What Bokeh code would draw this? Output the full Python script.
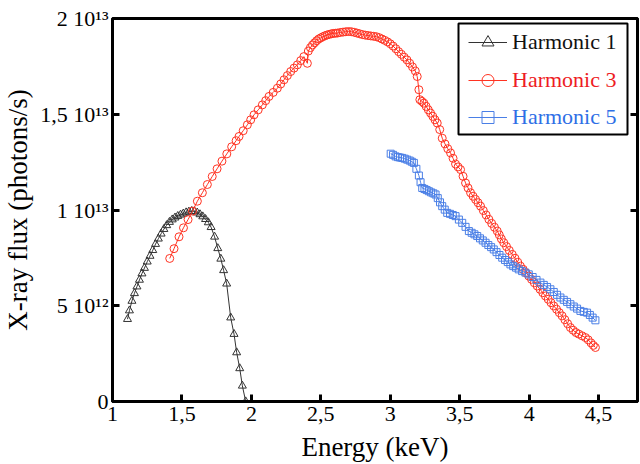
from bokeh.plotting import figure
from bokeh.models import (Range1d, LinearAxis, FixedTicker, CustomJSTickFormatter,
                          Legend, LegendItem, BoxAnnotation)
from bokeh.embed import file_html
from bokeh.resources import INLINE

# ---------------- data (flux in units of 1e13 photons/s) ----------------
energy_h1 = [1.108, 1.122, 1.140, 1.158, 1.176, 1.194, 1.212, 1.230, 1.250, 1.270,
             1.290, 1.310, 1.330, 1.350, 1.370, 1.390, 1.410, 1.430, 1.450, 1.470,
             1.490, 1.510, 1.530, 1.550, 1.570, 1.590, 1.610, 1.630, 1.650, 1.670,
             1.690, 1.710, 1.735, 1.758, 1.780, 1.800, 1.822, 1.851, 1.875, 1.894,
             1.916, 1.935, 1.959]
flux_h1 = [0.430, 0.475, 0.525, 0.565, 0.600, 0.635, 0.668, 0.697, 0.730, 0.760,
           0.790, 0.822, 0.850, 0.876, 0.900, 0.920, 0.937, 0.950, 0.960, 0.968,
           0.975, 0.981, 0.987, 0.991, 0.994, 0.993, 0.986, 0.977, 0.966, 0.952,
           0.935, 0.910, 0.860, 0.800, 0.745, 0.685, 0.615, 0.438, 0.352, 0.256,
           0.173, 0.082, 0.000]

energy_h3 = [1.412, 1.443, 1.479, 1.511, 1.544, 1.576, 1.611, 1.647, 1.683, 1.718,
             1.753, 1.788, 1.823, 1.858, 1.890, 1.911, 1.941, 1.971, 1.995, 2.019,
             2.049, 2.079, 2.103, 2.127, 2.157, 2.187, 2.211, 2.235, 2.259, 2.283,
             2.307, 2.331, 2.355, 2.378, 2.403, 2.410, 2.425, 2.440, 2.455, 2.470,
             2.485, 2.500, 2.515, 2.530, 2.545, 2.560, 2.575, 2.590, 2.605, 2.620,
             2.640, 2.660, 2.680, 2.700, 2.720, 2.740, 2.760, 2.780, 2.800, 2.820,
             2.840, 2.860, 2.880, 2.900, 2.920, 2.940, 2.960, 2.980, 3.000, 3.020,
             3.040, 3.060, 3.080, 3.100, 3.120, 3.140, 3.160, 3.180, 3.194, 3.206,
             3.213, 3.228, 3.242, 3.258, 3.274, 3.290, 3.306, 3.322, 3.338, 3.356,
             3.374, 3.394, 3.414, 3.434, 3.452, 3.470, 3.488, 3.506, 3.524, 3.542,
             3.560, 3.578, 3.596, 3.614, 3.632, 3.650, 3.670, 3.690, 3.710, 3.730,
             3.750, 3.770, 3.785, 3.800, 3.817, 3.837, 3.857, 3.878, 3.898, 3.918,
             3.937, 3.957, 3.977, 3.997, 4.017, 4.037, 4.058, 4.078, 4.098, 4.117,
             4.137, 4.157, 4.177, 4.197, 4.217, 4.237, 4.257, 4.277, 4.297, 4.317,
             4.337, 4.357, 4.381, 4.405, 4.425, 4.445, 4.462, 4.477]
flux_h3 = [0.747, 0.798, 0.860, 0.907, 0.950, 0.994, 1.046, 1.090, 1.133, 1.175,
           1.215, 1.255, 1.293, 1.330, 1.362, 1.384, 1.414, 1.445, 1.471, 1.497,
           1.523, 1.549, 1.571, 1.593, 1.614, 1.636, 1.658, 1.680, 1.702, 1.723,
           1.741, 1.758, 1.780, 1.801, 1.766, 1.830, 1.848, 1.862, 1.873, 1.884,
           1.893, 1.899, 1.905, 1.910, 1.914, 1.917, 1.920, 1.922, 1.923, 1.924,
           1.927, 1.929, 1.931, 1.932, 1.931, 1.928, 1.924, 1.920, 1.916, 1.913,
           1.911, 1.909, 1.907, 1.905, 1.900, 1.893, 1.886, 1.878, 1.868, 1.856,
           1.842, 1.827, 1.813, 1.798, 1.784, 1.766, 1.747, 1.726, 1.697, 1.628,
           1.576, 1.567, 1.558, 1.541, 1.523, 1.506, 1.489, 1.471, 1.454, 1.420,
           1.375, 1.345, 1.320, 1.298, 1.270, 1.240, 1.225, 1.211, 1.176, 1.141,
           1.115, 1.090, 1.072, 1.055, 1.038, 1.020, 0.997, 0.974, 0.951, 0.930,
           0.910, 0.890, 0.870, 0.849, 0.829, 0.809, 0.789, 0.768, 0.748, 0.727,
           0.707, 0.690, 0.672, 0.655, 0.638, 0.620, 0.603, 0.586, 0.568, 0.551,
           0.534, 0.516, 0.499, 0.482, 0.464, 0.447, 0.427, 0.406, 0.386, 0.372,
           0.360, 0.352, 0.343, 0.334, 0.322, 0.306, 0.293, 0.282]

energy_h5 = [3.003, 3.020, 3.038, 3.055, 3.070, 3.086, 3.104, 3.122, 3.140, 3.155,
             3.170, 3.188, 3.206, 3.218, 3.230, 3.246, 3.262, 3.278, 3.294, 3.310,
             3.326, 3.342, 3.358, 3.374, 3.392, 3.410, 3.430, 3.450, 3.470, 3.494,
             3.518, 3.542, 3.566, 3.586, 3.606, 3.626, 3.646, 3.666, 3.686, 3.706,
             3.726, 3.745, 3.765, 3.786, 3.806, 3.826, 3.846, 3.865, 3.885, 3.905,
             3.925, 3.949, 3.973, 3.997, 4.025, 4.053, 4.081, 4.105, 4.129, 4.153,
             4.177, 4.201, 4.225, 4.249, 4.273, 4.297, 4.321, 4.345, 4.369, 4.393,
             4.417, 4.437, 4.457, 4.477]
flux_h5 = [1.294, 1.288, 1.280, 1.276, 1.274, 1.272, 1.268, 1.263, 1.258, 1.252,
           1.246, 1.215, 1.180, 1.145, 1.115, 1.110, 1.104, 1.098, 1.092, 1.087,
           1.081, 1.062, 1.040, 1.020, 1.002, 0.985, 0.980, 0.974, 0.968, 0.950,
           0.933, 0.912, 0.890, 0.881, 0.873, 0.864, 0.852, 0.841, 0.829, 0.817,
           0.806, 0.794, 0.780, 0.765, 0.751, 0.739, 0.728, 0.716, 0.707, 0.699,
           0.690, 0.681, 0.673, 0.664, 0.650, 0.635, 0.621, 0.609, 0.598, 0.586,
           0.572, 0.557, 0.543, 0.531, 0.520, 0.508, 0.496, 0.485, 0.473, 0.468,
           0.464, 0.452, 0.438, 0.424]

series_names = ["Harmonic 1", "Harmonic 3", "Harmonic 5"]

x_tick_values = [1, 1.5, 2, 2.5, 3, 3.5, 4, 4.5]
x_tick_labels = ["1", "1,5", "2", "2,5", "3", "3,5", "4", "4,5"]
y_tick_values = [0, 0.5, 1, 1.5, 2]
y_tick_labels = ["0", "5 10\u00b9\u00b2", "1 10\u00b9\u00b3", "1,5 10\u00b9\u00b3", "2 10\u00b9\u00b3"]

# ---------------- styling ----------------
FONT = "Liberation Serif"
C1, C3, C5 = "#333333", "#ff3322", "#4a7fe6"
T1, T3, T5 = "#111111", "#ee1c24", "#2e6fe6"

p = figure(width=640, height=464, output_backend="svg", toolbar_location=None,
           x_range=Range1d(1, 4.78), y_range=Range1d(0, 2),
           min_border_left=112, min_border_right=3, min_border_top=18,
           min_border_bottom=62, x_axis_label="Energy (keV)",
           y_axis_label="X-ray flux (photons/s)")
p.xgrid.visible = False
p.ygrid.visible = False
p.outline_line_color = "black"
p.outline_line_width = 3
p.outline_line_alpha = 1
p.background_fill_color = "white"
p.border_fill_color = "white"

fmt_x = CustomJSTickFormatter(args=dict(vals=x_tick_values, labs=x_tick_labels),
                              code="const i = vals.indexOf(tick); return i >= 0 ? labs[i] : '';")
fmt_y = CustomJSTickFormatter(args=dict(vals=y_tick_values, labs=y_tick_labels),
                              code="const i = vals.indexOf(tick); return i >= 0 ? labs[i] : '';")

xa = p.xaxis[0]
xa.ticker = FixedTicker(ticks=x_tick_values, minor_ticks=[])
xa.formatter = fmt_x
ya = p.yaxis[0]
ya.ticker = FixedTicker(ticks=y_tick_values, minor_ticks=[])
ya.formatter = fmt_y

for ax in (xa, ya):
    ax.axis_line_width = 3
    ax.major_tick_line_width = 3
    ax.major_tick_in = 7
    ax.major_tick_out = 0
    ax.minor_tick_in = 0
    ax.minor_tick_out = 0
    ax.major_label_text_font = FONT
    ax.major_label_text_font_size = "22px"
    ax.major_label_text_color = "black"
    ax.axis_label_text_font = FONT
    ax.axis_label_text_font_size = "27px"
    ax.axis_label_text_font_style = "normal"
    ax.axis_label_text_color = "black"
xa.major_label_standoff = 5
xa.axis_label_standoff = 8
ya.major_label_standoff = 4
ya.axis_label_standoff = 4

ra = LinearAxis(ticker=FixedTicker(ticks=y_tick_values, minor_ticks=[]),
                formatter=CustomJSTickFormatter(code="return '';"),
                axis_line_width=3, major_tick_line_width=3, major_tick_in=7,
                major_tick_out=0, minor_tick_in=0, minor_tick_out=0,
                major_label_standoff=0, major_label_text_font_size="1px")
p.add_layout(ra, "right")

# ---------------- series ----------------
l1 = p.line(energy_h1, flux_h1, line_color=C1, line_width=1)
s1 = p.scatter(energy_h1, flux_h1, marker="triangle", size=8, fill_color=None,
               line_color=C1, line_width=1)
l3 = p.line(energy_h3, flux_h3, line_color=C3, line_width=1)
s3 = p.scatter(energy_h3, flux_h3, marker="circle", size=8, fill_color=None,
               line_color=C3, line_width=1)
l5 = p.line(energy_h5, flux_h5, line_color=C5, line_width=1)
s5 = p.scatter(energy_h5, flux_h5, marker="square", size=7, fill_color=None,
               line_color=C5, line_width=1)

# ---------------- legend ----------------
box = BoxAnnotation(left=346, right=515, bottom=267, top=378,
                    left_units="screen", right_units="screen",
                    top_units="screen", bottom_units="screen",
                    fill_color="white", fill_alpha=1,
                    line_color="black", line_width=2, line_alpha=1)
p.add_layout(box)

rows = [(series_names[0], [l1, s1], T1, 344),
        (series_names[1], [l3, s3], T3, 306),
        (series_names[2], [l5, s5], T5, 269)]
for name, rends, tcol, ybot in rows:
    leg = Legend(items=[LegendItem(label=name, renderers=rends)],
                 location=(356, ybot), padding=0, margin=0, spacing=0,
                 border_line_alpha=0, background_fill_alpha=0,
                 glyph_width=39, glyph_height=30, label_height=30,
                 label_standoff=5, label_text_font=FONT,
                 label_text_font_size="22px", label_text_color=tcol)
    p.add_layout(leg)

open("out.html", "w").write(file_html(p, INLINE))
